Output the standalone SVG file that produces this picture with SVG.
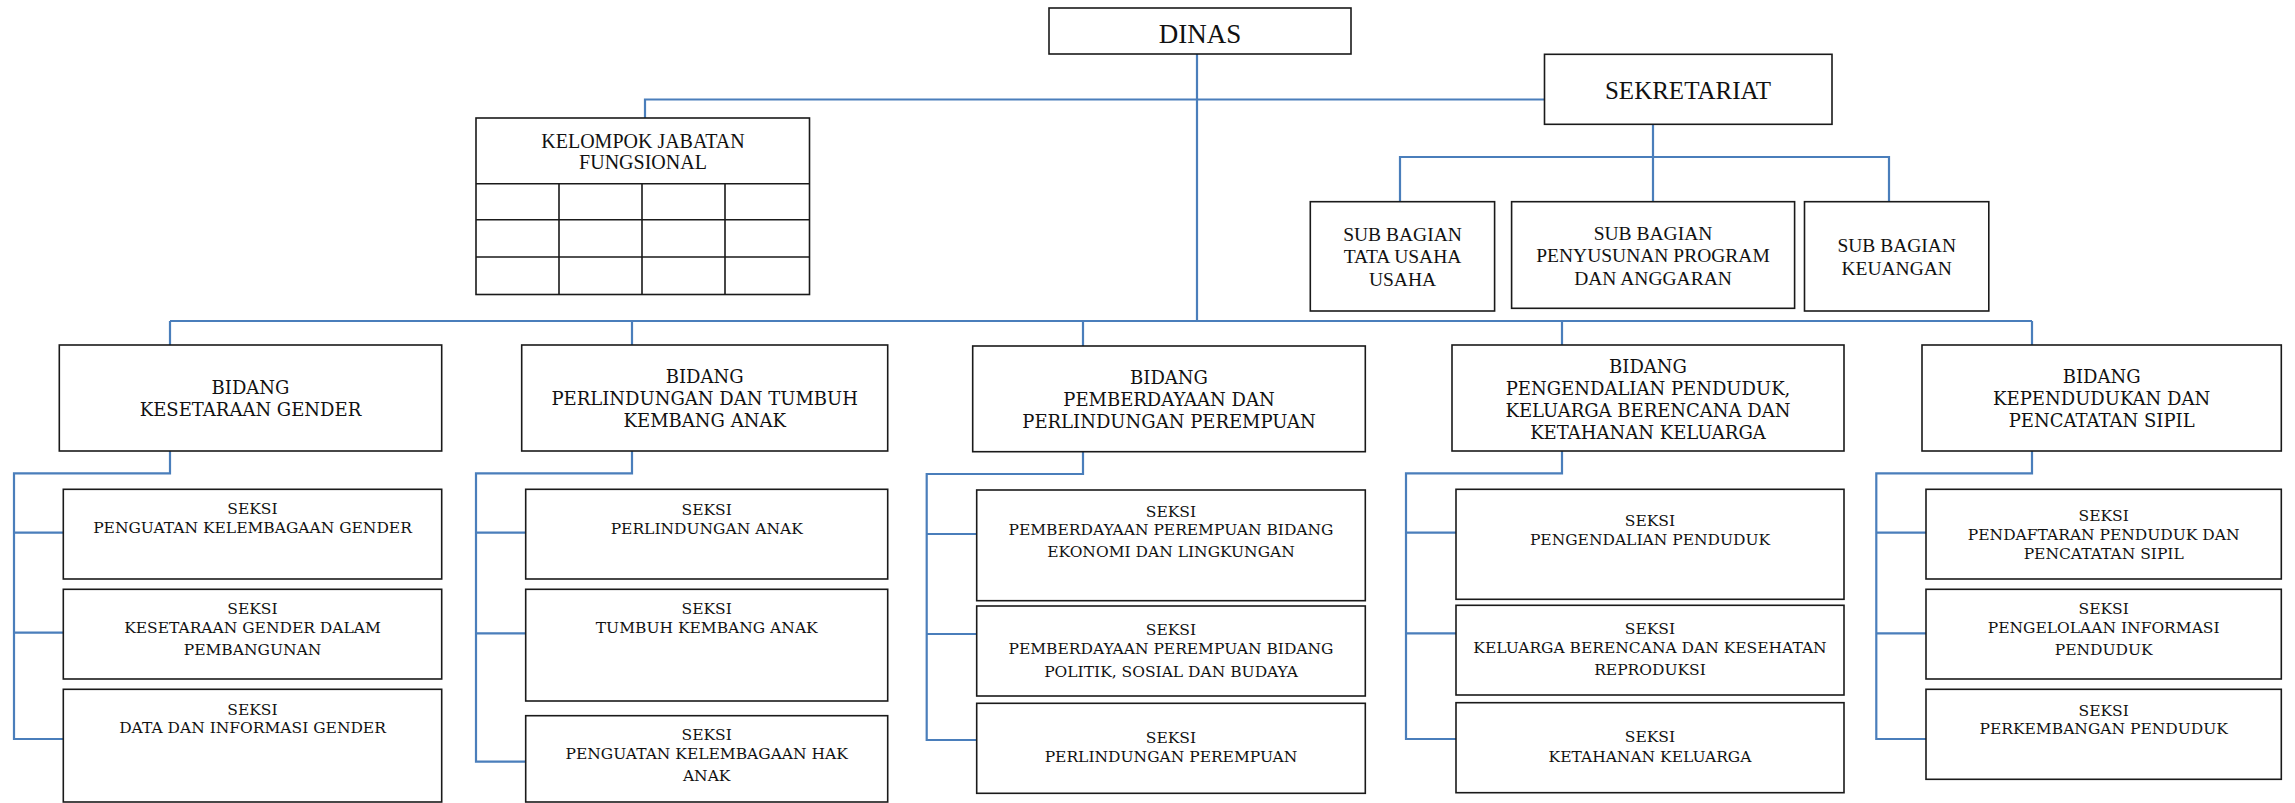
<svg xmlns="http://www.w3.org/2000/svg" width="2295" height="803" viewBox="0 0 2295 803">
<style>
.bg{fill:#ffffff}
.box{fill:#ffffff;stroke:#1a1a1a;stroke-width:1.6}
.grid{fill:none;stroke:#1a1a1a;stroke-width:1.6}
.conn{fill:none;stroke:#4a7ebb;stroke-width:2.2}
text{fill:#111;text-anchor:middle}
.tm{font-family:"Liberation Serif","Times New Roman",serif}
.bk{font-family:"DejaVu Serif",serif}
.d{font-size:27px}
.s{font-size:25px}
.sb{font-size:19.5px}
.kj{font-size:20px}
.bd{font-size:18px}
.sk{font-size:15.5px}
</style>
<rect class="bg" x="0" y="0" width="2295" height="803"/>

<g id="connectors">
  <path class="conn" d="M1197 54 V321"/>
  <path class="conn" d="M645 118 V99.5 H1544"/>
  <path class="conn" d="M170 321 H2032"/>
  <path class="conn" d="M170 321 V345 M632 321 V345 M1083 321 V346 M1562 321 V345 M2032 321 V345"/>
  <path class="conn" d="M1653 124 V201.7 M1400 201.7 V157 H1889 V201.7"/>
  <path class="conn" d="M170 451 V473.3 H14 V739 H63 M14 532.7 H63 M14 632.7 H63"/>
  <path class="conn" d="M632 451 V473.3 H476 V761.7 H525.7 M476 532.7 H525.7 M476 633.3 H525.7"/>
  <path class="conn" d="M1083 451.7 V474 H926.7 V740 H976.7 M926.7 534 H976.7 M926.7 634 H976.7"/>
  <path class="conn" d="M1562 451 V473.3 H1406 V739 H1456 M1406 532.7 H1456 M1406 633.3 H1456"/>
  <path class="conn" d="M2032 451 V473.3 H1876.3 V739 H1926 M1876.3 532.7 H1926 M1876.3 633.3 H1926"/>
</g>

<g id="dinas">
  <rect class="box" x="1049" y="8" width="302" height="46"/>
  <text class="tm d" x="1200" y="42.7">DINAS</text>
</g>

<g id="sekretariat">
  <rect class="box" x="1544.5" y="54.3" width="287.5" height="70"/>
  <text class="tm s" x="1688" y="99.3">SEKRETARIAT</text>
</g>

<g id="kelompok-jabatan-fungsional">
  <rect class="box" x="476" y="118" width="333.5" height="176.5"/>
  <path class="grid" d="M476 183.7 H809.5 M476 219.7 H809.5 M476 257 H809.5 M559 183.7 V294.5 M642 183.7 V294.5 M725 183.7 V294.5"/>
  <text class="tm kj" x="643" y="148.3">KELOMPOK JABATAN</text>
  <text class="tm kj" x="643" y="169.3">FUNGSIONAL</text>
</g>

<g id="sub-bagian-tata-usaha">
  <rect class="box" x="1310.3" y="201.7" width="184.3" height="109.3"/>
  <text class="tm sb" x="1402.5" y="241">SUB BAGIAN</text>
  <text class="tm sb" x="1402.5" y="262.7">TATA USAHA</text>
  <text class="tm sb" x="1402.5" y="285.7">USAHA</text>
</g>

<g id="sub-bagian-program">
  <rect class="box" x="1511.6" y="201.7" width="283" height="106.6"/>
  <text class="tm sb" x="1653" y="240">SUB BAGIAN</text>
  <text class="tm sb" x="1653" y="261.7">PENYUSUNAN PROGRAM</text>
  <text class="tm sb" x="1653" y="285">DAN ANGGARAN</text>
</g>

<g id="sub-bagian-keuangan">
  <rect class="box" x="1804.5" y="201.7" width="184.3" height="109.3"/>
  <text class="tm sb" x="1896.7" y="251.7">SUB BAGIAN</text>
  <text class="tm sb" x="1896.7" y="275">KEUANGAN</text>
</g>

<!-- Column 1 -->
<g id="bidang-kesetaraan-gender">
  <rect class="box" x="59.3" y="345" width="382.4" height="106"/>
  <text class="bk bd" x="250.5" y="394">BIDANG</text>
  <text class="bk bd" x="250.5" y="416">KESETARAAN GENDER</text>
</g>
<g id="seksi-penguatan-kelembagaan-gender">
  <rect class="box" x="63.3" y="489.3" width="378.4" height="89.7"/>
  <text class="bk sk" x="252.5" y="514">SEKSI</text>
  <text class="bk sk" x="252.5" y="532.7">PENGUATAN KELEMBAGAAN GENDER</text>
</g>
<g id="seksi-kesetaraan-gender-pembangunan">
  <rect class="box" x="63.3" y="589.3" width="378.4" height="89.7"/>
  <text class="bk sk" x="252.5" y="614">SEKSI</text>
  <text class="bk sk" x="252.5" y="632.7">KESETARAAN GENDER DALAM</text>
  <text class="bk sk" x="252.5" y="655">PEMBANGUNAN</text>
</g>
<g id="seksi-data-informasi-gender">
  <rect class="box" x="63.3" y="689.3" width="378.4" height="112.7"/>
  <text class="bk sk" x="252.5" y="715">SEKSI</text>
  <text class="bk sk" x="252.5" y="733.3">DATA DAN INFORMASI GENDER</text>
</g>

<!-- Column 2 -->
<g id="bidang-perlindungan-anak">
  <rect class="box" x="521.7" y="345" width="366" height="106"/>
  <text class="bk bd" x="704.7" y="383.3">BIDANG</text>
  <text class="bk bd" x="704.7" y="405.3">PERLINDUNGAN DAN TUMBUH</text>
  <text class="bk bd" x="704.7" y="427.3">KEMBANG ANAK</text>
</g>
<g id="seksi-perlindungan-anak">
  <rect class="box" x="525.7" y="489.3" width="362" height="89.7"/>
  <text class="bk sk" x="706.7" y="515">SEKSI</text>
  <text class="bk sk" x="706.7" y="534">PERLINDUNGAN ANAK</text>
</g>
<g id="seksi-tumbuh-kembang-anak">
  <rect class="box" x="525.7" y="589.3" width="362" height="111.7"/>
  <text class="bk sk" x="706.7" y="614">SEKSI</text>
  <text class="bk sk" x="706.7" y="633.3">TUMBUH KEMBANG ANAK</text>
</g>
<g id="seksi-penguatan-hak-anak">
  <rect class="box" x="525.7" y="715.7" width="362" height="86.3"/>
  <text class="bk sk" x="706.7" y="740">SEKSI</text>
  <text class="bk sk" x="706.7" y="759">PENGUATAN KELEMBAGAAN HAK</text>
  <text class="bk sk" x="706.7" y="780.7">ANAK</text>
</g>

<!-- Column 3 -->
<g id="bidang-pemberdayaan-perempuan">
  <rect class="box" x="972.7" y="346" width="392.6" height="105.7"/>
  <text class="bk bd" x="1169" y="384">BIDANG</text>
  <text class="bk bd" x="1169" y="406">PEMBERDAYAAN DAN</text>
  <text class="bk bd" x="1169" y="428.3">PERLINDUNGAN PEREMPUAN</text>
</g>
<g id="seksi-ekonomi-lingkungan">
  <rect class="box" x="976.7" y="490" width="388.6" height="110.7"/>
  <text class="bk sk" x="1171" y="516.7">SEKSI</text>
  <text class="bk sk" x="1171" y="535">PEMBERDAYAAN PEREMPUAN BIDANG</text>
  <text class="bk sk" x="1171" y="557.3">EKONOMI DAN LINGKUNGAN</text>
</g>
<g id="seksi-politik-sosial-budaya">
  <rect class="box" x="976.7" y="606" width="388.6" height="90"/>
  <text class="bk sk" x="1171" y="635.3">SEKSI</text>
  <text class="bk sk" x="1171" y="654">PEMBERDAYAAN PEREMPUAN BIDANG</text>
  <text class="bk sk" x="1171" y="676.7">POLITIK, SOSIAL DAN BUDAYA</text>
</g>
<g id="seksi-perlindungan-perempuan">
  <rect class="box" x="976.7" y="703.3" width="388.6" height="90"/>
  <text class="bk sk" x="1171" y="743.3">SEKSI</text>
  <text class="bk sk" x="1171" y="762.3">PERLINDUNGAN PEREMPUAN</text>
</g>

<!-- Column 4 -->
<g id="bidang-pengendalian-penduduk">
  <rect class="box" x="1452" y="345" width="392" height="106"/>
  <text class="bk bd" x="1648" y="372.7">BIDANG</text>
  <text class="bk bd" x="1648" y="395">PENGENDALIAN PENDUDUK,</text>
  <text class="bk bd" x="1648" y="417">KELUARGA BERENCANA DAN</text>
  <text class="bk bd" x="1648" y="438.7">KETAHANAN KELUARGA</text>
</g>
<g id="seksi-pengendalian-penduduk">
  <rect class="box" x="1456" y="489.3" width="388" height="110"/>
  <text class="bk sk" x="1650" y="526">SEKSI</text>
  <text class="bk sk" x="1650" y="545.3">PENGENDALIAN PENDUDUK</text>
</g>
<g id="seksi-kb-kesehatan-reproduksi">
  <rect class="box" x="1456" y="605.3" width="388" height="89.7"/>
  <text class="bk sk" x="1650" y="634">SEKSI</text>
  <text class="bk sk" x="1650" y="653.3">KELUARGA BERENCANA DAN KESEHATAN</text>
  <text class="bk sk" x="1650" y="675">REPRODUKSI</text>
</g>
<g id="seksi-ketahanan-keluarga">
  <rect class="box" x="1456" y="702.7" width="388" height="90"/>
  <text class="bk sk" x="1650" y="742.3">SEKSI</text>
  <text class="bk sk" x="1650" y="762.3">KETAHANAN KELUARGA</text>
</g>

<!-- Column 5 -->
<g id="bidang-kependudukan-pencatatan-sipil">
  <rect class="box" x="1922" y="345" width="359.3" height="106"/>
  <text class="bk bd" x="2101.7" y="383.3">BIDANG</text>
  <text class="bk bd" x="2101.7" y="405.3">KEPENDUDUKAN DAN</text>
  <text class="bk bd" x="2101.7" y="427.3">PENCATATAN SIPIL</text>
</g>
<g id="seksi-pendaftaran-penduduk">
  <rect class="box" x="1926" y="489.3" width="355.3" height="89.7"/>
  <text class="bk sk" x="2103.7" y="521">SEKSI</text>
  <text class="bk sk" x="2103.7" y="540">PENDAFTARAN PENDUDUK DAN</text>
  <text class="bk sk" x="2103.7" y="559.3">PENCATATAN SIPIL</text>
</g>
<g id="seksi-pengelolaan-informasi">
  <rect class="box" x="1926" y="589.3" width="355.3" height="89.7"/>
  <text class="bk sk" x="2103.7" y="614">SEKSI</text>
  <text class="bk sk" x="2103.7" y="632.7">PENGELOLAAN INFORMASI</text>
  <text class="bk sk" x="2103.7" y="655">PENDUDUK</text>
</g>
<g id="seksi-perkembangan-penduduk">
  <rect class="box" x="1926" y="689.3" width="355.3" height="90"/>
  <text class="bk sk" x="2103.7" y="716">SEKSI</text>
  <text class="bk sk" x="2103.7" y="734.3">PERKEMBANGAN PENDUDUK</text>
</g>
</svg>
